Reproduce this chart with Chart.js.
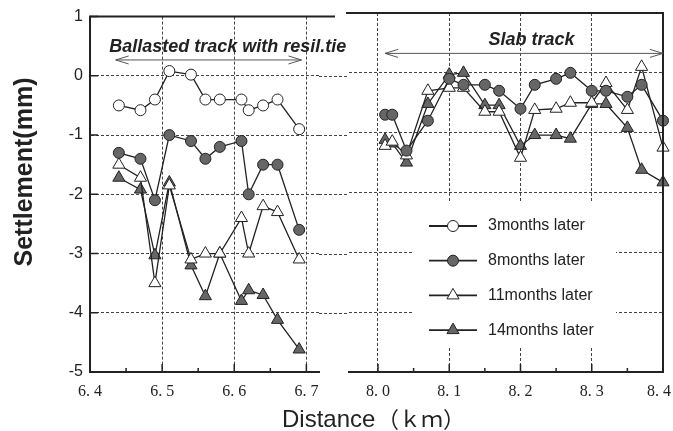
<!DOCTYPE html>
<html>
<head>
<meta charset="utf-8">
<script src="https://cdn.jsdelivr.net/npm/chart.js@4.4.1/dist/chart.umd.min.js"></script>
<style>
  html, body { margin: 0; padding: 0; background: #fff; overflow: hidden; }
  #wrap { position: relative; width: 673px; height: 431px; overflow: hidden; }
  #wrap canvas { position: absolute; left: 0; top: 0; }
</style>
</head>
<body>
<div id="wrap">
  <canvas id="ballastChart" width="673" height="431"></canvas>
  <!-- a little wider than the page so the 8.4 label overflow does not squeeze the plot -->
  <canvas id="slabChart" width="689" height="431"></canvas>
</div>
<script>
// settlement (mm) against distance (km)
const ballastDistance = [6.44, 6.47, 6.49, 6.51, 6.54, 6.56, 6.58, 6.61, 6.62, 6.64, 6.66, 6.69];
const ballast3m  = [-0.5, -0.58, -0.4, 0.08, 0.02, -0.4, -0.4, -0.4, -0.58, -0.5, -0.4, -0.9];
const ballast8m  = [-1.3, -1.4, -2.1, -1.0, -1.1, -1.4, -1.2, -1.1, -2.0, -1.5, -1.5, -2.6];
const ballast11m = [-1.5, -1.72, -3.5, -1.85, -3.1, -3.0, -3.0, -2.4, -3.0, -2.2, -2.3, -3.1];
const ballast14m = [-1.72, -1.92, -3.03, -1.8, -3.2, -3.72, -3.0, -3.8, -3.62, -3.7, -4.12, -4.62];

const slabDistance = [8.01, 8.02, 8.04, 8.07, 8.10, 8.12, 8.15, 8.17, 8.20, 8.22, 8.25, 8.27, 8.30, 8.32, 8.35, 8.37, 8.40];
const slab8m  = [-0.7, -0.7, -1.3, -0.8, -0.1, -0.2, -0.2, -0.3, -0.6, -0.2, -0.1, 0.0, -0.3, -0.3, -0.4, -0.2, -0.8];
const slab11m = [-1.22, -1.15, -1.38, -0.3, -0.25, -0.25, -0.65, -0.65, -1.42, -0.62, -0.6, -0.5, -0.5, -0.17, -0.62, 0.1, -1.25];
const slab14m = [-1.12, -1.18, -1.5, -0.52, -0.03, 0.0, -0.54, -0.54, -1.22, -1.04, -1.04, -1.1, -0.52, -0.52, -0.92, -1.62, -1.83];

const yTicks = [1, 0, -1, -2, -3, -4, -5];
const ballastTicks = [6.4, 6.5, 6.6, 6.7];
const slabTicks = [8.0, 8.1, 8.2, 8.3, 8.4];
const seriesNames = ['3months later', '8months later', '11months later', '14months later'];

const ink = '#222';
const shade = '#666';
const gridInk = '#444';
const markerStyles = [
    { pointStyle: 'circle', pointRadius: 5.5, pointBackgroundColor: '#fff' },
    { pointStyle: 'circle', pointRadius: 5.5, pointBackgroundColor: shade },
    { pointStyle: 'triangle', pointRadius: 7, pointBackgroundColor: '#fff' },
    { pointStyle: 'triangle', pointRadius: 7, pointBackgroundColor: shade }
];

function series(xs, ys, i) {
    return Object.assign({
        label: seriesNames[i],
        data: xs.map((x, k) => ({ x: x, y: ys[k] })),
        borderColor: ink,
        borderWidth: 1.3,
        pointBorderColor: ink,
        pointBorderWidth: 1,
        tension: 0,
        clip: false
    }, markerStyles[i]);
}

function yScale(showLabels) {
    return {
        min: -5, max: 1,
        afterBuildTicks: s => { s.ticks = yTicks.map(v => ({ value: v })); },
        afterFit: s => { s.width = showLabels ? 90 : 0; },
        ticks: { display: showLabels, padding: 7, color: ink, font: { family: 'Liberation Sans', size: 16 } },
        grid: {
            drawTicks: false,
            lineWidth: 1,
            color: c => (c.tick && (c.tick.value === 1 || c.tick.value === -5)) ? 'rgba(0,0,0,0)' : gridInk
        },
        border: { display: showLabels, color: ink, width: 2, dash: [3, 2] }
    };
}

// pad: trailing space on the last label, nudging it left of the page edge
function xScale(min, max, tickList, hidden, pad) {
    const last = tickList[tickList.length - 1];
    return {
        type: 'linear', min: min, max: max,
        afterBuildTicks: s => { s.ticks = tickList.map(v => ({ value: v })); },
        afterFit: s => { s.height = 59; },
        ticks: {
            padding: 10, color: ink, maxRotation: 0, autoSkip: false,
            font: { family: 'Liberation Serif', size: 16 },
            callback: v => v.toFixed(1).replace('.', '. ') + (pad && Math.abs(v - last) < 1e-6 ? '\u2002' : '')
        },
        grid: {
            drawTicks: false,
            lineWidth: 1,
            color: c => (c.tick && Math.abs(c.tick.value - hidden) < 1e-6) ? 'rgba(0,0,0,0)' : gridInk
        },
        border: { color: ink, width: 2, dash: [3, 2] }
    };
}

function inwardTicks(chart, withY) {
    const ctx = chart.ctx, x = chart.scales.x, a = chart.chartArea;
    ctx.save();
    ctx.strokeStyle = ink;
    ctx.lineWidth = 1.5;
    ctx.beginPath();
    x.ticks.forEach(t => {
        const px = x.getPixelForValue(t.value);
        ctx.moveTo(px, a.bottom); ctx.lineTo(px, a.bottom - 8);
        const mid = t.value + 0.05;
        if (mid < x.max) {
            const mx = x.getPixelForValue(mid);
            ctx.moveTo(mx, a.bottom); ctx.lineTo(mx, a.bottom - 4);
        }
    });
    if (withY) {
        const y = chart.scales.y;
        yTicks.forEach(v => {
            const py = y.getPixelForValue(v);
            ctx.moveTo(a.left, py); ctx.lineTo(a.left + 8, py);
        });
    }
    ctx.stroke();
    ctx.restore();
}

function doubleArrow(ctx, x1, x2, y) {
    ctx.save();
    ctx.strokeStyle = '#555';
    ctx.lineWidth = 1;
    ctx.beginPath();
    ctx.moveTo(x1, y); ctx.lineTo(x2, y);
    ctx.moveTo(x1 + 13, y - 4); ctx.lineTo(x1, y); ctx.lineTo(x1 + 13, y + 4);
    ctx.moveTo(x2 - 13, y - 4); ctx.lineTo(x2, y); ctx.lineTo(x2 - 13, y + 4);
    ctx.stroke();
    ctx.restore();
}

function regionLabel(chart, text, cx, cy, from, to, arrowY) {
    const ctx = chart.ctx, x = chart.scales.x, y = chart.scales.y;
    ctx.save();
    ctx.fillStyle = ink;
    ctx.font = 'italic bold 18px "Liberation Sans"';
    ctx.textAlign = 'center';
    ctx.textBaseline = 'middle';
    ctx.fillText(text, x.getPixelForValue(cx), y.getPixelForValue(cy));
    ctx.restore();
    doubleArrow(ctx, x.getPixelForValue(from), x.getPixelForValue(to), y.getPixelForValue(arrowY));
}

const ballastFrame = {
    id: 'ballastFrame',
    afterDraw(chart) {
        const ctx = chart.ctx, a = chart.chartArea, y = chart.scales.y;
        // horizontal grid carried across the axis break
        ctx.save();
        ctx.strokeStyle = gridInk;
        ctx.lineWidth = 1;
        ctx.setLineDash([3, 2]);
        ctx.beginPath();
        yTicks.slice(1, -1).forEach(v => {
            const py = Math.round(y.getPixelForValue(v)) + 0.5;
            ctx.moveTo(a.right, py); ctx.lineTo(349, py);
        });
        ctx.stroke();
        ctx.setLineDash([]);
        ctx.strokeStyle = ink;
        ctx.lineWidth = 2;
        ctx.beginPath();
        ctx.moveTo(a.left - 1, a.top); ctx.lineTo(335, a.top);
        ctx.stroke();
        ctx.restore();

        inwardTicks(chart, true);
        regionLabel(chart, 'Ballasted track with resil.tie', 6.591, 0.48, 6.4356, 6.6932, 0.268);

        // axis titles
        ctx.save();
        ctx.fillStyle = ink;
        ctx.translate(25, 172);
        ctx.rotate(-Math.PI / 2);
        ctx.font = 'bold 25px "Liberation Sans"';
        ctx.textAlign = 'center';
        ctx.textBaseline = 'middle';
        ctx.fillText('Settlement(mm)', 0, 0);
        ctx.restore();

        ctx.save();
        ctx.fillStyle = ink;
        ctx.textAlign = 'left';
        ctx.textBaseline = 'alphabetic';
        ctx.font = '24px "Liberation Sans"';
        ctx.fillText('Distance', 282, 427);
        ctx.font = '22px "Noto Sans CJK JP"';
        ctx.fillText('（ｋｍ）', 377, 427);
        ctx.restore();
    }
};

const slabFrame = {
    id: 'slabFrame',
    afterDraw(chart) {
        const ctx = chart.ctx, a = chart.chartArea;
        ctx.save();
        ctx.strokeStyle = ink;
        ctx.lineWidth = 2;
        ctx.beginPath();
        ctx.moveTo(346, a.top); ctx.lineTo(a.right + 1, a.top);
        ctx.moveTo(a.right, a.top); ctx.lineTo(a.right, a.bottom + 1);
        ctx.stroke();
        ctx.restore();

        inwardTicks(chart, false);
        regionLabel(chart, 'Slab track', 8.2154, 0.55, 8.0098, 8.4, 0.325);

        // legend
        ctx.save();
        ctx.fillStyle = '#fff';
        ctx.fillRect(413, 203, 203, 144);
        seriesNames.forEach((name, i) => {
            const cy = 226 + i * 34.7;
            const m = markerStyles[i];
            ctx.strokeStyle = ink;
            ctx.lineWidth = 1.8;
            ctx.beginPath();
            ctx.moveTo(429, cy); ctx.lineTo(477, cy);
            ctx.stroke();
            ctx.lineWidth = 1;
            ctx.fillStyle = m.pointBackgroundColor;
            Chart.helpers.drawPoint(ctx, { pointStyle: m.pointStyle, radius: m.pointRadius, rotation: 0, borderWidth: 1 }, 453, cy);
            ctx.fillStyle = ink;
            ctx.font = '16px "Liberation Sans"';
            ctx.textAlign = 'left';
            ctx.textBaseline = 'middle';
            ctx.fillText(name, 488, cy);
        });
        ctx.restore();
    }
};

const baseOptions = {
    responsive: false,
    animation: false,
    devicePixelRatio: 1,
    events: [],
    plugins: { legend: { display: false }, tooltip: { enabled: false } }
};

new Chart(document.getElementById('ballastChart'), {
    type: 'line',
    data: {
        datasets: [
            series(ballastDistance, ballast3m, 0),
            series(ballastDistance, ballast8m, 1),
            series(ballastDistance, ballast11m, 2),
            series(ballastDistance, ballast14m, 3)
        ]
    },
    options: Object.assign({}, baseOptions, {
        layout: { padding: { top: 13, right: 354, bottom: 0, left: 0 } },
        scales: { x: xScale(6.4, 6.7175, ballastTicks, 6.4, false), y: yScale(true) }
    }),
    plugins: [ballastFrame]
});

new Chart(document.getElementById('slabChart'), {
    type: 'line',
    data: {
        datasets: [
            series(slabDistance, slab8m, 1),
            series(slabDistance, slab11m, 2),
            series(slabDistance, slab14m, 3)
        ]
    },
    options: Object.assign({}, baseOptions, {
        layout: { padding: { top: 13, right: 0, bottom: 0, left: 349 } },
        scales: { x: xScale(7.9593, 8.4, slabTicks, 8.4, true), y: yScale(false) }
    }),
    plugins: [slabFrame]
});
</script>
</body>
</html>
